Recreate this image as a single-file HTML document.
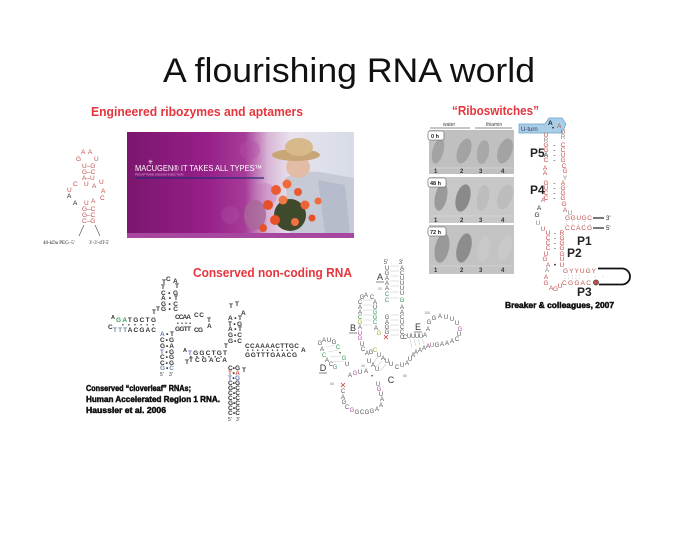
<!DOCTYPE html>
<html><head><meta charset="utf-8"><style>
html,body{margin:0;padding:0;background:#fff;}
svg{display:block;font-family:"Liberation Sans",sans-serif;}
.r{fill:#c0504d;font-size:6.5px;}
.k{fill:#222;font-size:6.5px;}
.g{fill:#888;font-size:6.5px;}
.lb{fill:#222;font-size:12px;font-weight:bold;}
.cl{fill:#333;font-size:6.5px;font-weight:bold;}
.bg{fill:#555;font-size:6px;}
.gn{fill:#3a9a5a;font-size:6px;}
.pk{fill:#b04aa0;font-size:6px;}
.yg{fill:#9aaa30;font-size:6px;}
.sm{fill:#777;font-size:3.5px;}
.big{fill:#333;font-size:9px;}
.hv{fill:#111;font-size:8.5px;font-weight:bold;stroke:#111;stroke-width:0.5px;}
</style></head><body>
<svg width="699" height="540" viewBox="0 0 699 540" xmlns="http://www.w3.org/2000/svg">
<rect width="699" height="540" fill="#fff"/>
<defs>
<linearGradient id="bgr" x1="0" x2="1" y1="0" y2="0">
<stop offset="0" stop-color="#7c166e"/>
<stop offset="0.35" stop-color="#961f88"/>
<stop offset="0.52" stop-color="#a73c98"/>
<stop offset="0.62" stop-color="#d8b4d6"/>
<stop offset="0.72" stop-color="#e8e2ec"/>
<stop offset="1" stop-color="#d6dde8"/>
</linearGradient>
</defs>

<!-- Title -->
<text x="163" y="82" font-size="34" fill="#111" textLength="372" lengthAdjust="spacingAndGlyphs">A flourishing RNA world</text>

<!-- Red headers -->
<text x="91" y="116" font-size="13" font-weight="bold" fill="#e5353d" textLength="212" lengthAdjust="spacingAndGlyphs">Engineered ribozymes and aptamers</text>
<text x="452" y="115" font-size="13" font-weight="bold" fill="#e5353d" textLength="87" lengthAdjust="spacingAndGlyphs">“Riboswitches”</text>
<text x="193" y="277" font-size="13" font-weight="bold" fill="#e5353d" textLength="159" lengthAdjust="spacingAndGlyphs">Conserved non-coding RNA</text>

<!-- Macugen banner -->
<rect x="127" y="132" width="227" height="106" fill="url(#bgr)"/>
<circle cx="250" cy="150" r="10" fill="#b450a8" opacity="0.4"/>
<circle cx="230" cy="215" r="9" fill="#b050a8" opacity="0.35"/>
<circle cx="265" cy="195" r="12" fill="#c070b8" opacity="0.35"/>
<path d="M285 178 Q300 170 320 172 L354 178 L354 234 L290 234 Z" fill="#c6cad6"/>
<path d="M318 180 L345 185 L350 234 L325 234 Z" fill="#b6bccb"/>
<ellipse cx="298" cy="167" rx="12" ry="11" fill="#e3bca6"/>
<ellipse cx="296" cy="155" rx="24" ry="6" fill="#c9a676"/>
<ellipse cx="299" cy="147" rx="14" ry="9" fill="#d8b98a"/>
<ellipse cx="255" cy="215" rx="11" ry="15" fill="#a86898" opacity="0.8"/>
<ellipse cx="290" cy="215" rx="16" ry="16" fill="#3f4a2c"/>
<circle cx="276" cy="190" r="5" fill="#ec5a32"/>
<circle cx="287" cy="184" r="4.5" fill="#f06a3a"/>
<circle cx="268" cy="205" r="5" fill="#e8502a"/>
<circle cx="283" cy="200" r="4.5" fill="#f07844"/>
<circle cx="298" cy="192" r="4" fill="#e85a30"/>
<circle cx="305" cy="205" r="4.5" fill="#ec6434"/>
<circle cx="275" cy="220" r="5" fill="#e8502a"/>
<circle cx="295" cy="222" r="4" fill="#f27040"/>
<circle cx="312" cy="218" r="3.5" fill="#e8502a"/>
<circle cx="263" cy="228" r="4" fill="#e05530"/>
<circle cx="318" cy="201" r="3.5" fill="#f06a3a"/>
<rect x="127" y="233" width="227" height="5" fill="#a8479f"/>
<text x="148" y="164" font-size="6" fill="#fff">✳</text>
<text x="135" y="171" font-size="8.5" fill="#fff" textLength="127" lengthAdjust="spacingAndGlyphs">MACUGEN® IT TAKES ALL TYPES™</text>
<text x="135" y="175.5" font-size="3" fill="#e2b0e0">PEGAPTANIB SODIUM INJECTION</text>
<line x1="135" y1="178" x2="264" y2="178" stroke="#2b2b78" stroke-width="1.2"/>

<!-- Left aptamer -->
<g font-family="Liberation Sans">
<text class="r" x="81" y="154">A</text><text class="r" x="88" y="154">A</text>
<text class="r" x="76" y="161">G</text><text class="r" x="94" y="161">U</text>
<text class="r" x="82" y="168">U–G</text>
<text class="r" x="82" y="174">G–C</text>
<text class="r" x="82" y="180">A–U</text>
<text class="r" x="73" y="186">C</text><text class="r" x="84" y="186">U</text><text class="r" x="92" y="188">A</text><text class="r" x="99" y="184">U</text>
<text class="r" x="67" y="192">U</text><text class="r" x="101" y="193">A</text>
<text class="k" x="67" y="198">A</text><text class="r" x="100" y="200">C</text>
<text class="k" x="73" y="205">A</text><text class="r" x="84" y="205">U</text><text class="r" x="91" y="203">A</text>
<text class="r" x="82" y="211">G–C</text>
<text class="r" x="82" y="217">G–C</text>
<text class="r" x="82" y="223">C–G</text>
<line x1="84" y1="225" x2="79" y2="236" stroke="#444" stroke-width="0.6"/>
<line x1="95" y1="225" x2="100" y2="236" stroke="#444" stroke-width="0.6"/>
<text x="43" y="244" font-size="5" fill="#222" font-family="Liberation Serif">40-kDa PEG–5'</text>
<text x="89" y="244" font-size="5" fill="#222" font-family="Liberation Serif">3'-3'-dT-5'</text>
</g>

<!-- Riboswitch photo panels -->
<text x="443" y="126" font-size="5" fill="#444">water</text>
<text x="486" y="126" font-size="5" fill="#444">thiamin</text>
<line x1="430" y1="128" x2="470" y2="128" stroke="#666" stroke-width="0.7"/>
<line x1="475" y1="128" x2="512" y2="128" stroke="#666" stroke-width="0.7"/>
<rect x="429" y="130" width="85" height="44" fill="#c0c0c0"/>
<rect x="429" y="177" width="85" height="46" fill="#c8c8c8"/>
<rect x="429" y="225" width="85" height="49" fill="#c3c3c3"/>
<g>
<ellipse cx="438" cy="151" rx="5.5" ry="13" fill="#a3a3a3" transform="rotate(15 438 151)"/>
<ellipse cx="464" cy="151" rx="6.5" ry="13" fill="#a3a3a3" transform="rotate(20 464 151)"/>
<ellipse cx="483" cy="152" rx="6" ry="12" fill="#a8a8a8" transform="rotate(10 483 152)"/>
<ellipse cx="505" cy="151" rx="7" ry="13" fill="#a3a3a3" transform="rotate(20 505 151)"/>
<ellipse cx="441" cy="197" rx="6" ry="14" fill="#9a9a9a" transform="rotate(12 441 197)"/>
<ellipse cx="463" cy="198" rx="7" ry="14" fill="#8a8a8a" transform="rotate(15 463 198)"/>
<ellipse cx="483" cy="198" rx="6" ry="13" fill="#bdbdbd" transform="rotate(10 483 198)"/>
<ellipse cx="505" cy="197" rx="7" ry="13" fill="#bcbcbc" transform="rotate(20 505 197)"/>
<ellipse cx="442" cy="248" rx="7" ry="15" fill="#999" transform="rotate(12 442 248)"/>
<ellipse cx="464" cy="248" rx="7" ry="15" fill="#8c8c8c" transform="rotate(15 464 248)"/>
<ellipse cx="484" cy="249" rx="6" ry="13" fill="#c8c8c8" transform="rotate(10 484 249)"/>
<ellipse cx="505" cy="248" rx="6" ry="13" fill="#c9c9c9" transform="rotate(18 505 248)"/>
<line x1="430" y1="168" x2="513" y2="168" stroke="#d8d8d8" stroke-width="0.8"/>
<line x1="430" y1="216" x2="513" y2="216" stroke="#d8d8d8" stroke-width="0.8"/>
<line x1="430" y1="266" x2="513" y2="266" stroke="#d6d6d6" stroke-width="0.8"/>
</g>
<g font-size="6" font-weight="bold" fill="#333">
<text x="434" y="173">1</text><text x="460" y="173">2</text><text x="479" y="173">3</text><text x="501" y="173">4</text>
<text x="434" y="222">1</text><text x="460" y="222">2</text><text x="479" y="222">3</text><text x="501" y="222">4</text>
<text x="434" y="272">1</text><text x="460" y="272">2</text><text x="479" y="272">3</text><text x="501" y="272">4</text>
</g>
<rect x="428" y="131" width="16" height="9" rx="2" fill="#fff" stroke="#555" stroke-width="0.6"/>
<text x="431" y="138" font-size="5.5" font-weight="bold" fill="#222">0 h</text>
<rect x="428" y="178" width="18" height="9" rx="2" fill="#fff" stroke="#555" stroke-width="0.6"/>
<text x="430" y="185" font-size="5.5" font-weight="bold" fill="#222">48 h</text>
<rect x="428" y="227" width="18" height="9" rx="2" fill="#fff" stroke="#555" stroke-width="0.6"/>
<text x="430" y="234" font-size="5.5" font-weight="bold" fill="#222">72 h</text>

<!-- Riboswitch structure -->
<polygon points="519,124 545,124 549,118 562,118 566,124 562,133 519,133" fill="#a9cfe8" stroke="#6a9cc8" stroke-width="0.7"/>
<text x="521" y="131" font-size="6" fill="#335">U-turn</text>
<text x="548" y="125" font-size="6.5" font-weight="bold" fill="#222">A</text>
<text x="552" y="130" font-size="6" fill="#222">•</text>
<text x="557" y="128" class="r">A</text>
<g text-anchor="middle">
<text class="r" x="546" y="137">U</text><text class="r" x="563" y="134">U</text>
<text class="g" x="546" y="142">R</text><text class="g" x="563" y="139">R</text>
<text class="r" x="546" y="147">G</text><text class="k" x="554.5" y="147">-</text><text class="r" x="563" y="147">C</text>
<text class="r" x="546" y="152">G</text><text class="k" x="554.5" y="152">-</text><text class="r" x="563" y="152">C</text>
<text class="k" x="546" y="157">A</text><text class="k" x="554.5" y="157">-</text><text class="r" x="563" y="157">U</text>
<text class="r" x="546" y="162">C</text><text class="k" x="554.5" y="162">-</text><text class="r" x="563" y="162">G</text>
<text class="r" x="545" y="170">A</text><text class="r" x="564" y="168">C</text>
<text class="r" x="545" y="175">A</text><text class="r" x="565" y="173">G</text>
<text class="g" x="565" y="180">Y</text>
<text class="r" x="546" y="185">G</text><text class="k" x="554.5" y="185">-</text><text class="r" x="563" y="185">A</text>
<text class="r" x="546" y="190">U</text><text class="k" x="554.5" y="190">-</text><text class="r" x="563" y="190">G</text>
<text class="r" x="546" y="195">C</text><text class="k" x="554.5" y="195">-</text><text class="r" x="563" y="195">G</text>
<text class="r" x="546" y="200">C</text><text class="k" x="554.5" y="200">-</text><text class="r" x="563" y="200">G</text>
<text class="r" x="543" y="202">A</text><text class="r" x="564" y="206">G</text>
<text class="k" x="539" y="210">A</text><text class="r" x="565" y="212">A</text>
<text class="g" x="570" y="215" font-size="5">U</text>
<text class="k" x="537" y="217">G</text>
<text class="g" x="538" y="225">U</text>
<text class="r" x="543" y="231">U</text>
<text class="r" x="548" y="235">U</text><text class="k" x="555" y="235">-</text><text class="r" x="562" y="235">R</text>
<text class="r" x="548" y="240">C</text><text class="k" x="555" y="240">-</text><text class="r" x="562" y="240">G</text>
<text class="r" x="548" y="245">C</text><text class="k" x="555" y="245">-</text><text class="r" x="562" y="245">G</text>
<text class="r" x="548" y="250">C</text><text class="k" x="555" y="250">-</text><text class="r" x="562" y="250">G</text>
<text class="r" x="546" y="256">U</text><text class="r" x="562" y="256">G</text>
<text class="r" x="545" y="261">G</text><text class="r" x="562" y="261">U</text>
<text class="r" x="548" y="267">A</text><text class="k" x="555" y="267">•</text><text class="r" x="562" y="267">U</text>
<text class="g" x="547" y="272">A</text>
<text class="r" x="546" y="279">A</text>
<text class="r" x="546" y="285">G</text>
<text class="r" x="551" y="290">A</text><text class="r" x="555.5" y="291">G</text><text class="r" x="560" y="288">U</text>
</g>
<text class="r" x="565" y="220" textLength="27" lengthAdjust="spacing">GGUGC</text>
<line x1="593" y1="218" x2="604" y2="218" stroke="#222" stroke-width="1.2"/>
<text x="606" y="220" font-size="6" fill="#222">3'</text>
<text class="g" x="566" y="224.5" textLength="25" lengthAdjust="spacing">:::::</text>
<text class="r" x="565" y="230" textLength="27" lengthAdjust="spacing">CCACG</text>
<line x1="593" y1="228" x2="604" y2="228" stroke="#222" stroke-width="1.2"/>
<text x="606" y="230" font-size="6" fill="#222">5'</text>
<text class="r" x="563" y="273" textLength="33" lengthAdjust="spacing">GYYUGY</text>
<text class="g" x="564" y="278.5" textLength="40" lengthAdjust="spacing">:::::  ·  ·  ·</text>
<text class="r" x="562" y="285" textLength="29" lengthAdjust="spacing">CGGAC</text>
<path d="M598 268.5 L622 268.5 A8 8 0 0 1 622 284.5 L599 284.5" fill="none" stroke="#111" stroke-width="1.8"/>
<circle cx="596" cy="282.5" r="2.6" fill="#c0504d" stroke="#333" stroke-width="0.6"/>
<text class="lb" x="530" y="157">P5</text>
<text class="lb" x="530" y="194">P4</text>
<text class="lb" x="577" y="245">P1</text>
<text class="lb" x="567" y="257">P2</text>
<text class="lb" x="577" y="296">P3</text>
<text class="hv" x="505" y="308" textLength="109" lengthAdjust="spacingAndGlyphs">Breaker &amp; colleagues, 2007</text>

<!-- Left cloverleaf -->
<g class="cl">
<text x="162" y="284">T</text><text x="166" y="281" >C</text><text x="173" y="283">A</text>
<text x="161" y="289">T</text><text x="175" y="288">T</text>
<text x="161" y="295" textLength="17" lengthAdjust="spacing">C•G</text>
<text x="161" y="300" textLength="17" lengthAdjust="spacing">A•T</text>
<text x="161" y="306" textLength="17" lengthAdjust="spacing">G•C</text>
<text x="161" y="311" textLength="17" lengthAdjust="spacing">G•C</text>
<text x="152" y="314">T</text><text x="156" y="311">T</text>
<text x="111" y="319" font-size="5.5">A</text>
<text x="116" y="322" textLength="40" lengthAdjust="spacing"><tspan fill="#3a9a5a">GA</tspan>TGCTG</text>
<text x="122" y="326.5" font-size="5" textLength="32" lengthAdjust="spacing">••••••</text>
<text x="108" y="329">C</text>
<text x="113" y="332" textLength="43" lengthAdjust="spacing"><tspan fill="#6a8aa0">TTT</tspan>ACGAC</text>
<text x="175" y="319" textLength="16" lengthAdjust="spacing">CCAA</text>
<text x="194" y="317" textLength="10" lengthAdjust="spacing">CC</text>
<text x="207" y="322">T</text>
<text x="177" y="325" font-size="5" textLength="14" lengthAdjust="spacing">••••</text>
<text x="175" y="331" textLength="16" lengthAdjust="spacing">GGTT</text>
<text x="194" y="332" textLength="9" lengthAdjust="spacing">CG</text>
<text x="207" y="328">A</text>
<text x="160" y="336" textLength="14" lengthAdjust="spacing"><tspan fill="#6a7ab8">A</tspan> • T</text>
<text x="160" y="342" textLength="14" lengthAdjust="spacing">C•G</text>
<text x="160" y="348" textLength="14" lengthAdjust="spacing">G•A</text>
<text x="160" y="354" textLength="14" lengthAdjust="spacing"><tspan fill="#6a7ab8">T</tspan>•G</text>
<text x="160" y="359" textLength="14" lengthAdjust="spacing">C•G</text>
<text x="160" y="365" textLength="14" lengthAdjust="spacing">C•G</text>
<text x="160" y="370" textLength="14" lengthAdjust="spacing"><tspan fill="#7a88a8">G</tspan>•<tspan fill="#7a88a8">C</tspan></text>
<text x="160" y="376" font-size="5" font-weight="normal">5'</text><text x="169" y="376" font-size="5" font-weight="normal">3'</text>
</g>

<!-- Right cloverleaf -->
<g class="cl">
<text x="229" y="308">T</text><text x="235" y="306">T</text><text x="241" y="315">A</text>
<text x="228" y="320" textLength="14" lengthAdjust="spacing">A•T</text>
<text x="228" y="326" textLength="14" lengthAdjust="spacing">T•G</text>
<text x="228" y="331" textLength="14" lengthAdjust="spacing">A•T</text>
<text x="228" y="337" textLength="14" lengthAdjust="spacing">G•C</text>
<text x="228" y="343" textLength="14" lengthAdjust="spacing">G•C</text>
<text x="224" y="348">T</text>
<text x="183" y="352" font-size="5.5">A</text>
<text x="188" y="355" textLength="39" lengthAdjust="spacing"><tspan fill="#6a7ab8">T</tspan>GGCTGT</text>
<text x="190" y="358.5" font-size="5" textLength="32" lengthAdjust="spacing">••••••</text>
<text x="185" y="364">T</text>
<text x="189" y="362" textLength="38" lengthAdjust="spacing">TCGACA</text>
<text x="242" y="372">T</text>
<text x="245" y="348" textLength="54" lengthAdjust="spacing">CCAAAACTTGC</text>
<text x="301" y="352">A</text>
<text x="247" y="352" font-size="5" textLength="46" lengthAdjust="spacing">••••••••••</text>
<text x="245" y="357" textLength="52" lengthAdjust="spacing">GGTTTGAACG</text>
<text x="228" y="370" textLength="12" lengthAdjust="spacing">C•G</text>
<text x="228" y="375" textLength="12" lengthAdjust="spacing"><tspan fill="#d0604d">T</tspan>•<tspan fill="#d0604d">A</tspan></text>
<text x="228" y="380" textLength="12" lengthAdjust="spacing"><tspan fill="#6a7ab8">T</tspan>•<tspan fill="#6a7ab8">G</tspan></text>
<text x="228" y="385" textLength="12" lengthAdjust="spacing">C•G</text>
<text x="228" y="390" textLength="12" lengthAdjust="spacing">G•C</text>
<text x="228" y="395" textLength="12" lengthAdjust="spacing">C•C</text>
<text x="228" y="400" textLength="12" lengthAdjust="spacing">C•C</text>
<text x="228" y="405" textLength="12" lengthAdjust="spacing">G•C</text>
<text x="228" y="410" textLength="12" lengthAdjust="spacing">C•C</text>
<text x="228" y="415" textLength="12" lengthAdjust="spacing">C•C</text>
<text x="228" y="421" font-size="5" font-weight="normal">5'</text><text x="236" y="421" font-size="5" font-weight="normal">3'</text>
</g>
<text class="hv" x="86" y="391" textLength="105" lengthAdjust="spacingAndGlyphs">Conserved “cloverleaf” RNAs;</text>
<text class="hv" x="86" y="402" textLength="134" lengthAdjust="spacingAndGlyphs">Human Accelerated Region 1 RNA.</text>
<text class="hv" x="86" y="413" textLength="80" lengthAdjust="spacingAndGlyphs">Haussler et al. 2006</text>

<!-- Big RNA structure -->
<g stroke="#ccc" stroke-width="0.6">
<line x1="390" y1="266" x2="399" y2="266"/><line x1="390" y1="271" x2="399" y2="271"/><line x1="390" y1="276" x2="399" y2="276"/><line x1="390" y1="281" x2="399" y2="281"/><line x1="390" y1="286" x2="399" y2="286"/><line x1="390" y1="292" x2="399" y2="292"/><line x1="390" y1="298" x2="399" y2="298"/>
<line x1="390" y1="315" x2="399" y2="315"/><line x1="390" y1="320" x2="399" y2="320"/><line x1="390" y1="325" x2="399" y2="325"/><line x1="390" y1="330" x2="399" y2="330"/><line x1="390" y1="335" x2="399" y2="335"/>
<line x1="363" y1="300" x2="372" y2="300"/><line x1="363" y1="305" x2="372" y2="305"/><line x1="363" y1="310" x2="372" y2="310"/><line x1="363" y1="315" x2="372" y2="315"/><line x1="363" y1="320" x2="372" y2="320"/><line x1="363" y1="325" x2="372" y2="325"/>
<line x1="410" y1="339" x2="412" y2="348"/><line x1="414" y1="339" x2="416" y2="346"/><line x1="418" y1="339" x2="420" y2="345"/><line x1="422" y1="339" x2="424" y2="344"/>
<line x1="326" y1="347" x2="335" y2="345"/><line x1="328" y1="352" x2="338" y2="350"/><line x1="330" y1="357" x2="341" y2="356"/><line x1="333" y1="362" x2="344" y2="361"/>
<line x1="378" y1="357" x2="372" y2="364"/><line x1="382" y1="361" x2="376" y2="367"/><line x1="386" y1="364" x2="380" y2="371"/>
</g>
<g text-anchor="middle">
<text class="bg" x="386" y="264" font-size="5">5'</text><text class="bg" x="401" y="264" font-size="5">3'</text>
<text class="big" x="380" y="280">A</text><line x1="376" y1="282" x2="384" y2="282" stroke="#333" stroke-width="0.6"/>
<text class="sm" x="380" y="290">20</text>
<text class="bg" x="387" y="270">U</text><text class="bg" x="387" y="275">G</text><text class="bg" x="387" y="280">A</text><text class="bg" x="387" y="285">A</text><text class="bg" x="387" y="290">A</text><text class="gn" x="387" y="296">C</text><text class="gn" x="387" y="302">C</text>
<text class="bg" x="402" y="270">A</text><text class="bg" x="402" y="275">C</text><text class="bg" x="402" y="280">U</text><text class="bg" x="402" y="285">U</text><text class="bg" x="402" y="290">U</text><text class="bg" x="402" y="295">U</text><text class="gn" x="402" y="302">G</text>
<text class="bg" x="402" y="309">A</text><text class="bg" x="402" y="314">A</text><text class="bg" x="402" y="319">C</text><text class="bg" x="402" y="324">U</text><text class="bg" x="402" y="329">C</text><text class="bg" x="402" y="334">C</text><text class="bg" x="402" y="339">C</text>
<text class="bg" x="387" y="319">G</text><text class="bg" x="387" y="324">A</text><text class="bg" x="387" y="329">G</text><text class="bg" x="387" y="334">G</text>
<text class="bg" x="362" y="299">G</text><text class="bg" x="366" y="297">A</text><text class="bg" x="372" y="299">C</text>
<text class="bg" x="360" y="304">C</text><text class="bg" x="360" y="309">A</text><text class="bg" x="360" y="314">A</text><text class="gn" x="360" y="319">C</text><text class="yg" x="360" y="324">G</text><text class="bg" x="360" y="329">A</text><text class="pk" x="360" y="335">U</text><text class="pk" x="360" y="340">G</text>
<text class="bg" x="375" y="304">A</text><text class="bg" x="375" y="309">U</text><text class="gn" x="375" y="314">G</text><text class="gn" x="375" y="319">G</text><text class="gn" x="375" y="324">C</text><text class="bg" x="376" y="330">A</text><text class="yg" x="379" y="335">G</text>
<text class="big" x="353" y="331">B</text><line x1="349" y1="333" x2="357" y2="333" stroke="#333" stroke-width="0.6"/>
<text x="386" y="340" font-size="8" fill="#d04040">✕</text>
<text class="bg" x="362" y="346">U</text><text class="bg" x="363" y="351">C</text><text class="bg" x="367" y="355">A</text><text class="bg" x="371" y="354">G</text><text class="yg" x="375" y="352">C</text><text class="bg" x="379" y="357">U</text>
<text class="bg" x="383" y="360">A</text><text class="bg" x="387" y="363">U</text><text class="bg" x="391" y="366">U</text>
<text class="bg" x="397" y="369">C</text><text class="bg" x="402" y="367">U</text><text class="bg" x="407" y="365">A</text><text class="bg" x="410" y="361">U</text>
<text class="bg" x="369" y="363">U</text><text class="bg" x="373" y="367">A</text><text class="bg" x="377" y="371">U</text><text class="bg" x="372" y="378">•</text>
<text class="sm" x="363" y="367">40</text>
<text class="big" x="391" y="383">C</text>
<text class="sm" x="405" y="377">80</text>
<text class="bg" x="405" y="339">C</text><text class="bg" x="409" y="338">U</text><text class="bg" x="413" y="338">U</text><text class="bg" x="417" y="338">U</text><text class="bg" x="421" y="338">U</text><text class="bg" x="425" y="337">A</text>
<text class="bg" x="413" y="357">A</text><text class="bg" x="416" y="354">A</text><text class="bg" x="420" y="352">A</text><text class="bg" x="424" y="350">A</text><text class="bg" x="428" y="348">A</text><text class="pk" x="432" y="347">U</text>
<text class="bg" x="437" y="347">G</text><text class="bg" x="442" y="346">A</text><text class="bg" x="447" y="345">A</text><text class="bg" x="452" y="343">A</text><text class="bg" x="457" y="341">C</text>
<text class="bg" x="459" y="336">U</text><text class="pk" x="460" y="331">G</text><text class="bg" x="457" y="325">U</text><text class="bg" x="452" y="321">U</text><text class="bg" x="446" y="319">U</text><text class="bg" x="440" y="318">A</text><text class="bg" x="434" y="320">G</text><text class="bg" x="429" y="324">G</text><text class="bg" x="428" y="331">A</text>
<text class="sm" x="427" y="314">100</text>
<text class="big" x="418" y="330">E</text><line x1="414" y1="332" x2="422" y2="332" stroke="#333" stroke-width="0.6"/>
<text class="bg" x="320" y="345">G</text><text class="bg" x="324" y="342">A</text><text class="bg" x="329" y="342">U</text><text class="bg" x="334" y="344">G</text>
<text class="bg" x="322" y="351">A</text><text class="gn" x="324" y="357">C</text><text class="bg" x="327" y="362">A</text><text class="bg" x="331" y="366">C</text><text class="gn" x="335" y="369">G</text>
<text class="gn" x="338" y="349">C</text><text class="bg" x="340" y="355">•</text><text class="gn" x="344" y="360">G</text><text class="bg" x="347" y="366">U</text>
<text class="big" x="323" y="371">D</text><line x1="319" y1="373" x2="327" y2="373" stroke="#333" stroke-width="0.6"/>
<text class="bg" x="350" y="377">A</text><text class="pk" x="355" y="375">G</text><text class="bg" x="360" y="374">U</text><text class="bg" x="366" y="373">A</text>
<text class="sm" x="332" y="385">60</text>
<text x="343" y="388" font-size="8" fill="#d04040">✕</text>
<text class="bg" x="343" y="393">C</text><text class="bg" x="343" y="399">A</text><text class="bg" x="344" y="404">G</text><text class="bg" x="347" y="409">C</text><text class="pk" x="352" y="412">G</text><text class="bg" x="357" y="414">G</text><text class="bg" x="362" y="414">C</text><text class="bg" x="367" y="414">G</text><text class="bg" x="372" y="413">G</text><text class="bg" x="377" y="411">A</text><text class="bg" x="381" y="407">A</text><text class="bg" x="382" y="401">A</text><text class="bg" x="381" y="396">U</text><text class="pk" x="379" y="391">G</text><text class="bg" x="378" y="386">U</text>
</g>
</svg>
</body></html>
